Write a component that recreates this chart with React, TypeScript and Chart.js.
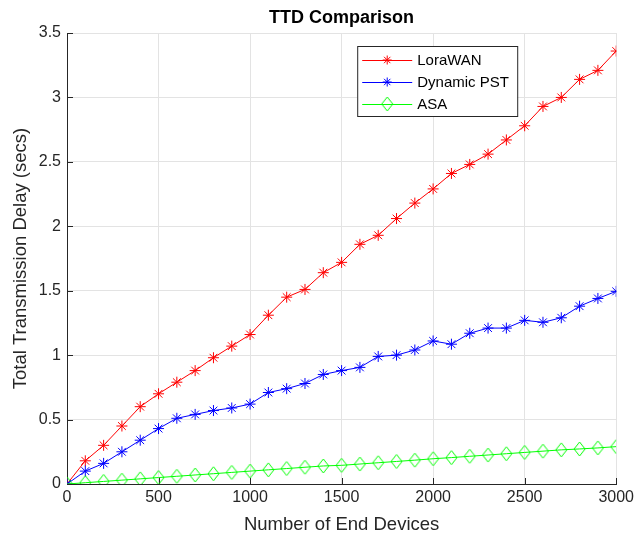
import React, { useEffect, useRef } from "react";
import { Chart, registerables } from "chart.js";

Chart.register(...registerables);

const devices = [0, 100, 200, 300, 400, 500, 600, 700, 800, 900, 1000, 1100, 1200, 1300, 1400, 1500, 1600, 1700, 1800, 1900, 2000, 2100, 2200, 2300, 2400, 2500, 2600, 2700, 2800, 2900, 3000];
const loraWAN = [0, 0.18, 0.30, 0.45, 0.60, 0.70, 0.79, 0.88, 0.98, 1.07, 1.16, 1.31, 1.45, 1.51, 1.64, 1.72, 1.86, 1.93, 2.06, 2.18, 2.29, 2.41, 2.48, 2.56, 2.67, 2.78, 2.93, 3.00, 3.14, 3.21, 3.36];
const dynamicPST = [0, 0.10, 0.16, 0.25, 0.34, 0.43, 0.51, 0.54, 0.57, 0.59, 0.62, 0.71, 0.74, 0.78, 0.85, 0.88, 0.905, 0.99, 1.00, 1.04, 1.11, 1.085, 1.17, 1.21, 1.21, 1.27, 1.255, 1.29, 1.38, 1.44, 1.495];
const asa = [0, 0.01, 0.02, 0.03, 0.04, 0.05, 0.06, 0.07, 0.08, 0.09, 0.10, 0.11, 0.12, 0.13, 0.14, 0.145, 0.155, 0.165, 0.175, 0.185, 0.196, 0.205, 0.215, 0.225, 0.235, 0.245, 0.255, 0.265, 0.272, 0.28, 0.29];
const xTicks = [0, 500, 1000, 1500, 2000, 2500, 3000];
const yTicks = [0, 0.5, 1, 1.5, 2, 2.5, 3, 3.5];
const seriesNames = ["LoraWAN", "Dynamic PST", "ASA"];
const seriesColors = ["#FF0000", "#0000FF", "#00FF00"];

const FONT = "'Liberation Sans', Arial, Helvetica, sans-serif";
const AXIS_COLOR = "#262626";

function makeDiamond(color: string): HTMLCanvasElement {
  const c = document.createElement("canvas");
  c.width = 13;
  c.height = 16;
  const ctx = c.getContext("2d")!;
  ctx.strokeStyle = color;
  ctx.lineWidth = 1;
  ctx.beginPath();
  ctx.moveTo(6.5, 1);
  ctx.lineTo(12, 8);
  ctx.lineTo(6.5, 15);
  ctx.lineTo(1, 8);
  ctx.closePath();
  ctx.stroke();
  return c;
}

function drawStar(ctx: CanvasRenderingContext2D, x: number, y: number, r: number, color: string) {
  ctx.save();
  ctx.strokeStyle = color;
  ctx.lineWidth = 1;
  ctx.beginPath();
  for (let i = 0; i < 4; i++) {
    const a = (i * Math.PI) / 4;
    ctx.moveTo(x - Math.cos(a) * r, y - Math.sin(a) * r);
    ctx.lineTo(x + Math.cos(a) * r, y + Math.sin(a) * r);
  }
  ctx.stroke();
  ctx.restore();
}

export default function App() {
  const ref = useRef<HTMLCanvasElement | null>(null);

  useEffect(() => {
    const canvas = ref.current;
    if (!canvas) return;
    const diamond = makeDiamond(seriesColors[2]);

    const decorPlugin = {
      id: "decor",
      beforeDatasetsDraw(chart: any) {
        const { ctx, chartArea, scales } = chart;
        ctx.save();
        ctx.strokeStyle = AXIS_COLOR;
        ctx.lineWidth = 1;
        ctx.beginPath();
        for (const v of xTicks) {
          const px = Math.round(scales.x.getPixelForValue(v)) + 0.5;
          ctx.moveTo(px, chartArea.bottom);
          ctx.lineTo(px, chartArea.bottom - 6);
        }
        for (const v of yTicks) {
          const py = Math.round(scales.y.getPixelForValue(v)) + 0.5;
          ctx.moveTo(chartArea.left, py);
          ctx.lineTo(chartArea.left + 6, py);
        }
        ctx.stroke();
        ctx.restore();
      },
      afterDraw(chart: any) {
        const { ctx, chartArea } = chart;
        ctx.save();
        // title
        ctx.fillStyle = "#000000";
        ctx.font = `bold 18px ${FONT}`;
        ctx.textAlign = "center";
        ctx.textBaseline = "middle";
        ctx.fillText("TTD Comparison", (chartArea.left + chartArea.right) / 2, 18);

        // legend
        const bx = chartArea.right - 259;
        const by = chartArea.top + 13;
        const bw = 160;
        const bh = 70;
        ctx.fillStyle = "#ffffff";
        ctx.fillRect(bx, by, bw, bh);
        ctx.strokeStyle = AXIS_COLOR;
        ctx.lineWidth = 1;
        ctx.strokeRect(bx + 0.5, by + 0.5, bw, bh);
        ctx.font = `15px ${FONT}`;
        ctx.textAlign = "left";
        ctx.textBaseline = "middle";
        for (let i = 0; i < seriesNames.length; i++) {
          const y = by + 14 + i * 22;
          ctx.strokeStyle = seriesColors[i];
          ctx.lineWidth = 1;
          ctx.beginPath();
          ctx.moveTo(bx + 5, y + 0.5);
          ctx.lineTo(bx + 55, y + 0.5);
          ctx.stroke();
          const mx = bx + 30;
          if (i < 2) drawStar(ctx, mx, y, 4.5, seriesColors[i]);
          else ctx.drawImage(diamond, mx - diamond.width / 2, y - diamond.height / 2);
          ctx.fillStyle = "#000000";
          ctx.fillText(seriesNames[i], bx + 60, y + 1);
        }
        ctx.restore();
      },
    };

    const mk = (i: number, data: number[], order: number) => ({
      label: seriesNames[i],
      data: devices.map((d, k) => ({ x: d, y: data[k] })),
      borderColor: seriesColors[i],
      backgroundColor: "rgba(0,0,0,0)",
      borderWidth: 1,
      pointStyle: i < 2 ? "star" : diamond,
      pointRadius: 5.5,
      pointBorderWidth: 1,
      pointBorderColor: seriesColors[i],
      pointBackgroundColor: "rgba(0,0,0,0)",
      tension: 0,
      order,
    });

    const chart = new Chart(canvas, {
      type: "line",
      data: {
        datasets: [mk(0, loraWAN, 2), mk(1, dynamicPST, 1), mk(2, asa, 0)] as any,
      },
      options: {
        responsive: false,
        animation: false,
        events: [],
        layout: { padding: { top: 33, right: 20, left: 0, bottom: 0 } },
        plugins: {
          legend: { display: false },
          title: { display: false },
          tooltip: { enabled: false },
        },
        scales: {
          x: {
            type: "linear",
            min: 0,
            max: 3000,
            afterBuildTicks: (scale: any) => {
              scale.ticks = xTicks.map((v) => ({ value: v }));
            },
            afterFit: (scale: any) => {
              scale.height = 54;
            },
            ticks: {
              callback: (v: any) => String(v),
              font: { family: FONT, size: 16 },
              color: AXIS_COLOR,
              padding: 4,
              maxRotation: 0,
            },
            grid: { color: "#e3e3e3", drawTicks: false, lineWidth: 1 },
            border: { color: AXIS_COLOR, width: 1 },
            title: {
              display: true,
              text: "Number of End Devices",
              font: { family: FONT, size: 18.5 },
              color: AXIS_COLOR,
              padding: { top: 0, bottom: 2 },
            },
          },
          y: {
            type: "linear",
            min: 0,
            max: 3.5,
            afterBuildTicks: (scale: any) => {
              scale.ticks = yTicks.map((v) => ({ value: v }));
            },
            afterFit: (scale: any) => {
              scale.width = 67;
            },
            ticks: {
              callback: (v: any) => String(v),
              font: { family: FONT, size: 16 },
              color: AXIS_COLOR,
              padding: 6,
            },
            grid: { color: "#e3e3e3", drawTicks: false, lineWidth: 1 },
            border: { color: AXIS_COLOR, width: 1 },
            title: {
              display: true,
              text: "Total Transmission Delay (secs)",
              font: { family: FONT, size: 18.5 },
              color: AXIS_COLOR,
              padding: { top: 10, bottom: 0 },
            },
          },
        },
      },
      plugins: [decorPlugin],
    } as any);

    return () => chart.destroy();
  }, []);

  return (
    <div style={{ position: "absolute", left: 0, top: 0, width: 638, height: 538, background: "#ffffff" }}>
      <canvas ref={ref} width={638} height={538} style={{ display: "block" }} />
    </div>
  );
}
